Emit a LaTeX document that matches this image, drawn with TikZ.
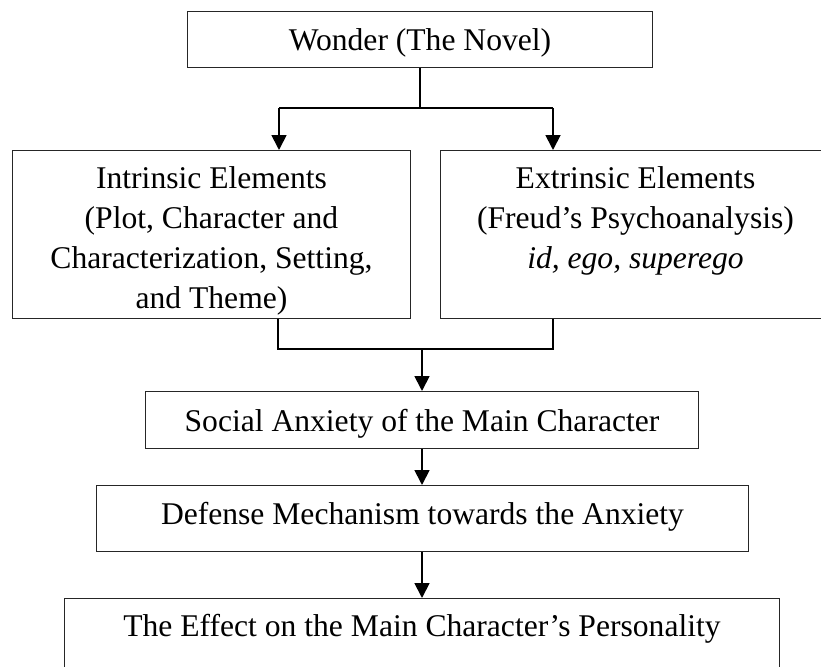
\documentclass[tikz,border=0pt]{standalone}
\usepackage{fontspec}
\setmainfont{Liberation Serif}
\usetikzlibrary{arrows.meta}
\newcommand\bxt[2]{\parbox[t]{#1}{\centering #2}}
\begin{document}
\begin{tikzpicture}[x=1pt,y=-1pt,
  box/.style={draw=black!85, line width=1pt, inner sep=0pt, anchor=north west,
    font=\fontsize{31.6}{40}\selectfont},
  conn/.style={line width=1.3pt, draw=black},
  arr/.style={line width=1.8pt, draw=black, -{Triangle[width=15pt,length=15pt]}}]
\useasboundingbox (0,0) rectangle (821,666);
\clip (0,0) rectangle (821,666);
\node[box, text height=39pt, text depth=17pt] (top) at (187,11) {\bxt{465pt}{Wonder (The Novel)}};
\node[box, text height=38pt, text depth=130pt] (intr) at (12,150) {\bxt{398pt}{Intrinsic Elements\\(Plot, Character and\\Characterization, Setting,\\and Theme)}};
\node[box, text height=38pt, text depth=130pt] (extr) at (440,150) {\bxt{390pt}{Extrinsic Elements\\(Freud’s Psychoanalysis)\\\textit{id, ego, superego}}};
\node[box, text height=40pt, text depth=17pt] (soc) at (145,391) {\bxt{553pt}{Social Anxiety of the Main Character}};
\node[box, text height=39pt, text depth=27pt] (def) at (96,485) {\bxt{652pt}{Defense Mechanism towards the Anxiety}};
\node[box, text height=38pt, text depth=70pt] (eff) at (64,598) {\bxt{715pt}{The Effect on the Main Character’s Personality}};
% top split
\coordinate (jc) at (420,108);
\coordinate (jl) at (279,108);
\coordinate (jr) at (553,108);
\draw[conn] (jc |- top.south) -- (jc);
\draw[conn] (jl) -- (jr);
\draw[arr] (jl) -- (jl |- intr.north);
\draw[arr] (jr) -- (jr |- extr.north);
% merge
\coordinate (ml) at (278,349);
\coordinate (mr) at (553,349);
\coordinate (mm) at (422,349);
\draw[conn] (ml |- intr.south) -- (ml) -- (mr) -- (mr |- extr.south);
\draw[arr] (mm) -- (mm |- soc.north);
\draw[arr] (mm |- soc.south) -- (mm |- def.north);
\draw[arr] (mm |- def.south) -- (mm |- eff.north);
\end{tikzpicture}
\end{document}
